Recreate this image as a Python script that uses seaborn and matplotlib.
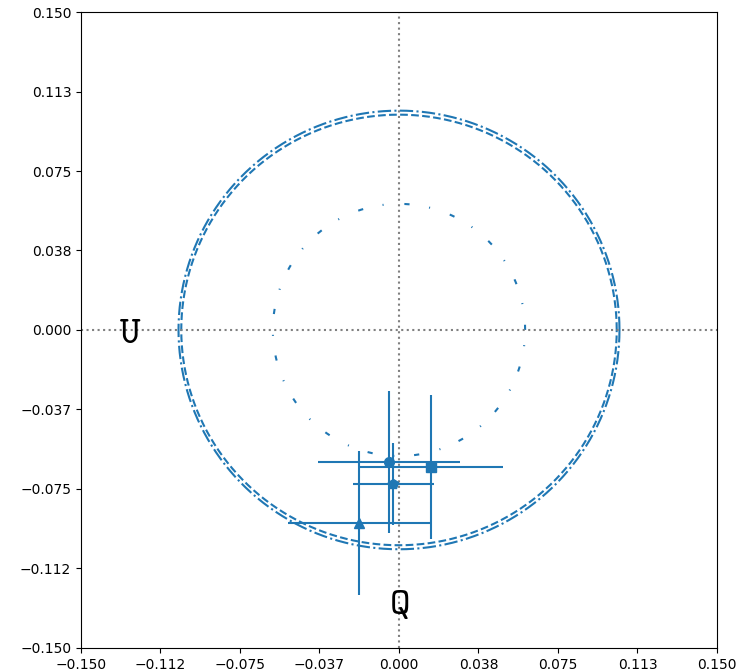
import numpy as np
import pandas as pd
import seaborn as sns
import matplotlib
matplotlib.use('Agg')
import matplotlib.pyplot as plt

# measured points (Q, U) with symmetric errors
q_vals = [-0.0047, 0.0151, -0.0028, -0.0187]
u_vals = [-0.0623, -0.0646, -0.0727, -0.0910]
q_err = [0.0333, 0.0340, 0.0191, 0.0336]
u_err = [0.0333, 0.0340, 0.0193, 0.0340]
markers = ['o', 's', 'p', '^']

# reference circles (x radius, y radius, line style)
circle_rx = [0.1040, 0.1027, 0.0595]
circle_ry = [0.1035, 0.1016, 0.0595]
circle_ls = ['-.', '--', (0, (2.5, 10, 0.5, 9.5))]

lim = 0.15
tick_labels = ['\u22120.150', '\u22120.112', '\u22120.075', '\u22120.037', '0.000',
               '0.038', '0.075', '0.113', '0.150']
color = '#1f77b4'

fig, ax = plt.subplots(figsize=(7.43, 6.72), dpi=100)
fig.subplots_adjust(left=0.109, right=0.965, bottom=0.036, top=0.982)

t = np.linspace(0, 2 * np.pi, 721)
for rx, ry, ls in zip(circle_rx, circle_ry, circle_ls):
    c = pd.DataFrame({'x': rx * np.cos(t), 'y': ry * np.sin(t)})
    sns.lineplot(data=c, x='x', y='y', sort=False, estimator=None,
                 color=color, linestyle=ls, lw=1.5, ax=ax)

ax.axhline(0, color='gray', linestyle=':', lw=1.5)
ax.axvline(0, color='gray', linestyle=':', lw=1.5)

for q, u, qe, ue, m in zip(q_vals, u_vals, q_err, u_err, markers):
    ax.errorbar(q, u, xerr=qe, yerr=ue, fmt=m, color=color, ms=7, lw=1.5)

ax.text(-0.127, -0.001, r'$\mathtt{U}$', fontsize=28, ha='center', va='center',
        math_fontfamily='cm')
ax.text(0.0, -0.129, r'$\mathtt{Q}$', fontsize=28, ha='center', va='center',
        math_fontfamily='cm')

ticks = np.linspace(-lim, lim, 9)
ax.set_xticks(ticks, tick_labels)
ax.set_yticks(ticks, tick_labels)
ax.set_xlim(-lim, lim)
ax.set_ylim(-lim, lim)
ax.set_xlabel('')
ax.set_ylabel('')

plt.savefig('out.png', dpi=100)
